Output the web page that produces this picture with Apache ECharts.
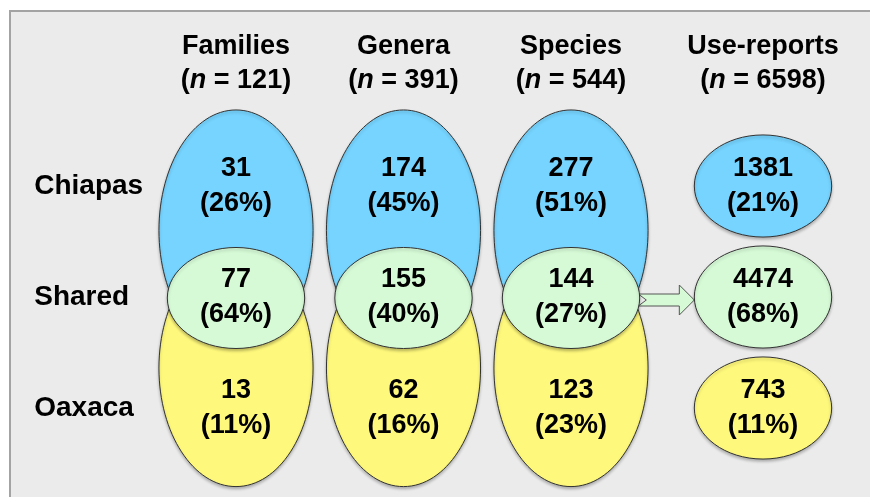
<!DOCTYPE html>
<html>
<head>
<meta charset="utf-8">
<style>
  html, body { margin: 0; padding: 0; background: #fff; }
  #chart { width: 870px; height: 497px; }
</style>
<script src="https://cdn.jsdelivr.net/npm/echarts@6/dist/echarts.min.js"></script>
</head>
<body>
<div id="chart"></div>
<script>
// data
var levels = ['Families', 'Genera', 'Species'];
var levelTotals = [121, 391, 544];
var regions = ['Chiapas', 'Shared', 'Oaxaca'];
var chiapasCounts = [31, 174, 277];
var chiapasPct = [26, 45, 51];
var sharedCounts = [77, 155, 144];
var sharedPct = [64, 40, 27];
var oaxacaCounts = [13, 62, 123];
var oaxacaPct = [11, 16, 23];
var useLabel = ['Use-reports'];
var useTotal = 6598;
var useCounts = [1381, 4474, 743];   // Chiapas, Shared, Oaxaca
var usePct = [21, 68, 11];

var fills = ['#76d4fe', '#d6fad6', '#fef87c'];
var FONT = '"Liberation Sans", Arial, sans-serif';

// venn items: [levelIndex, regionIndex, count, pct]  (blue, yellow first, green on top)
var vennData = [];
levels.forEach(function (l, i) { vennData.push([i, 0, chiapasCounts[i], chiapasPct[i]]); });
levels.forEach(function (l, i) { vennData.push([i, 2, oaxacaCounts[i], oaxacaPct[i]]); });
levels.forEach(function (l, i) { vennData.push([i, 1, sharedCounts[i], sharedPct[i]]); });

var useData = useCounts.map(function (v, i) { return [0, i, v, usePct[i]]; });

function ellipseStyle(row) {
  return {
    fill: fills[row], stroke: '#333', lineWidth: 1,
    shadowBlur: 3, shadowOffsetY: 2, shadowColor: 'rgba(0,0,0,0.25)'
  };
}
function labelEl(x, y, count, pct) {
  return {
    type: 'text', x: x, y: y, z2: 10,
    style: {
      text: count + '\n(' + pct + '%)', fill: '#000',
      fontFamily: FONT, fontWeight: 'bold', fontSize: 27, lineHeight: 35,
      align: 'center', verticalAlign: 'middle'
    }
  };
}

function renderVenn(params, api) {
  var col = api.value(0), row = api.value(1);
  var c = api.coord([col, row]);
  var mid = api.coord([col, 1]);
  var bw = api.size([1, 0])[0], bh = api.size([0, 1])[1];
  var shape;
  if (row === 1) {
    shape = { cx: c[0], cy: mid[1] + 1, rx: 0.41 * bw, ry: 0.455 * bh };
  } else if (row === 0) {
    shape = { cx: c[0], cy: mid[1] - 0.6 * bh, rx: 0.46 * bw, ry: 1.085 * bh };
  } else {
    shape = { cx: c[0], cy: mid[1] + 0.64 * bh, rx: 0.46 * bw, ry: 1.068 * bh };
  }
  return {
    type: 'group',
    children: [
      { type: 'ellipse', z2: row === 1 ? 3 : (row === 0 ? 1 : 2), shape: shape, style: ellipseStyle(row) },
      labelEl(c[0], c[1], api.value(2), api.value(3))
    ]
  };
}

function renderUse(params, api) {
  var row = api.value(1);
  var c = api.coord([0, row]);
  var bw = api.size([1, 0])[0], bh = api.size([0, 1])[1];
  return {
    type: 'group',
    children: [
      { type: 'ellipse', z2: 1, shape: { cx: c[0], cy: c[1], rx: 0.41 * bw, ry: 0.46 * bh }, style: ellipseStyle(row) },
      labelEl(c[0], c[1], api.value(2), api.value(3))
    ]
  };
}

// notched arrow from the species "shared" set to the use-reports "shared" set
function renderArrow(params, api) {
  var c = api.coord([0, 1]);
  var bw = api.size([1, 0])[0];
  var tip = c[0] - 0.41 * bw, y = c[1] + 3;
  var base = tip - 15, tail = tip - 56;
  return {
    type: 'polygon',
    shape: { points: [
      [tail, y - 6], [base, y - 6], [base, y - 15], [tip, y], [base, y + 15],
      [base, y + 6], [tail, y + 6], [tail + 8, y]
    ] },
    style: { fill: '#d6fad6', stroke: '#555', lineWidth: 1 }
  };
}

function header(name, n) {
  return '{b|' + name + '}\n{b|(}{i|n}{b| = ' + n + ')}';
}
var headerRich = {
  b: { fontFamily: FONT, fontWeight: 'bold', fontSize: 27, color: '#000', lineHeight: 34 },
  i: { fontFamily: FONT, fontWeight: 'bold', fontStyle: 'italic', fontSize: 27, color: '#000', lineHeight: 34 }
};

var chart = echarts.init(document.getElementById('chart'));
chart.setOption({
  backgroundColor: '#fff',
  animation: false,
  graphic: [{
    type: 'rect', z: -10, silent: true,
    shape: { x: 10, y: 11, width: 900, height: 500 },
    style: { fill: '#ebebeb', stroke: '#a3a3a3', lineWidth: 2 }
  }],
  grid: [
    { left: 152.25, top: 130.5, width: 502.5, height: 333 },
    { left: 679.25, top: 130.5, width: 167.5, height: 333 }
  ],
  xAxis: [
    {
      type: 'category', gridIndex: 0, position: 'top', data: levels,
      axisLine: { show: false }, axisTick: { show: false }, splitLine: { show: false },
      axisLabel: {
        interval: 0, margin: 33,
        formatter: function (v, i) { return header(v, levelTotals[i]); },
        rich: headerRich
      }
    },
    {
      type: 'category', gridIndex: 1, position: 'top', data: useLabel,
      axisLine: { show: false }, axisTick: { show: false }, splitLine: { show: false },
      axisLabel: {
        interval: 0, margin: 33,
        formatter: function (v) { return header(v, useTotal); },
        rich: headerRich
      }
    }
  ],
  yAxis: [
    {
      type: 'category', gridIndex: 0, inverse: true, data: regions,
      axisLine: { show: false }, axisTick: { show: false }, splitLine: { show: false },
      axisLabel: {
        interval: 0, align: 'left', margin: 118,
        color: '#000', fontFamily: FONT, fontWeight: 'bold', fontSize: 28
      }
    },
    {
      type: 'category', gridIndex: 1, inverse: true, data: regions, show: false
    }
  ],
  series: [
    { type: 'custom', xAxisIndex: 0, yAxisIndex: 0, z: 3, renderItem: renderVenn, data: vennData, silent: true },
    { type: 'custom', xAxisIndex: 1, yAxisIndex: 1, z: 1, renderItem: renderArrow, data: [[0, 1]], silent: true },
    { type: 'custom', xAxisIndex: 1, yAxisIndex: 1, z: 3, renderItem: renderUse, data: useData, silent: true }
  ]
});
</script>
</body>
</html>
